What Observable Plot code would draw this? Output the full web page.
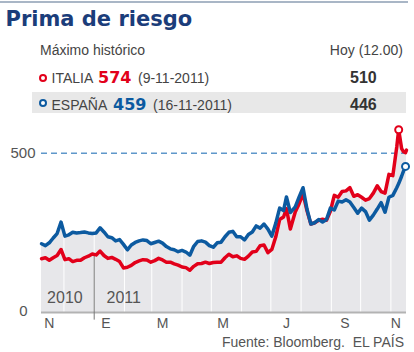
<!DOCTYPE html>
<html><head><meta charset="utf-8">
<script src="https://cdn.jsdelivr.net/npm/d3@7"></script>
<script src="https://cdn.jsdelivr.net/npm/@observablehq/plot@0.6"></script>
<style>
html,body{margin:0;padding:0;background:#fff;}
#wrap{position:relative;width:414px;height:352px;overflow:hidden;font-family:"Liberation Sans",Arial,sans-serif;color:#444;}
.a{position:absolute;white-space:pre;line-height:1;}
.t14{font-size:14px;}
.big{font-family:"DejaVu Sans",sans-serif;font-weight:bold;font-size:16px;}
.hoy{font-family:"Liberation Sans",Arial,sans-serif;font-weight:bold;font-size:16px;color:#333;}
.ring{position:absolute;box-sizing:border-box;width:8px;height:8px;border-radius:50%;border:2px solid;background:#fff;}
#chart{position:absolute;left:0;top:118px;}
</style></head>
<body><div id="wrap">
<div class="a" style="left:0;top:1px;width:408px;height:2px;background:#a9b6c6;"></div>
<div class="a" id="title" style="left:5.5px;top:9.2px;font-family:'DejaVu Sans',sans-serif;font-weight:bold;font-size:21px;color:#1b3d7a;"></div>
<div class="a t14" id="histLabel" style="left:40px;top:43.2px;"></div>
<div class="a t14" id="hoyLabel" style="right:11px;top:43.2px;"></div>
<div class="a" style="left:32px;top:92px;width:374px;height:21px;background:#e8e8e8;"></div>
<div class="ring" style="left:38.7px;top:74.3px;border-color:#e2001a;"></div>
<div class="ring" style="left:38.7px;top:99.3px;border-color:#0c5aa0;"></div>
<div class="a t14" id="itName" style="left:51.5px;top:71.2px;"></div>
<div class="a big" id="itMax" style="left:98px;top:69.5px;color:#e2001a;"></div>
<div class="a t14" id="itDate" style="left:138px;top:71.2px;"></div>
<div class="a hoy" id="itNow" style="left:350px;top:69.5px;"></div>
<div class="a t14" id="esName" style="left:51.5px;top:98.2px;"></div>
<div class="a big" id="esMax" style="left:113px;top:96.5px;color:#0c5aa0;"></div>
<div class="a t14" id="esDate" style="left:153px;top:98.2px;"></div>
<div class="a hoy" id="esNow" style="left:350px;top:96.5px;"></div>
<div id="chart"></div>
<div class="a t14" id="source" style="right:10px;top:335.2px;color:#555;"></div>
</div>
<script>
// ---- texts ----
const titleText = "Prima de riesgo";
const histText = "Máximo histórico";
const hoyText = "Hoy (12.00)";
const seriesNames = ["ITALIA", "ESPAÑA"];
const maxValues = [574, 459];
const maxDates = ["2011-11-09", "2011-11-16"];
const maxDateLabels = ["(9-11-2011)", "(16-11-2011)"];
const nowValues = [510, 446];
const sourceText = "Fuente: Bloomberg.  EL PAÍS";

// ---- series ----
const dates = [
"2010-11-08","2010-11-12","2010-11-16","2010-11-20","2010-11-24","2010-11-28",
"2010-12-02","2010-12-06","2010-12-10","2010-12-14","2010-12-18","2010-12-22","2010-12-26","2010-12-30",
"2011-01-03","2011-01-07","2011-01-11","2011-01-15","2011-01-19","2011-01-23","2011-01-27","2011-01-31",
"2011-02-04","2011-02-08","2011-02-12","2011-02-16","2011-02-20","2011-02-24","2011-02-28",
"2011-03-04","2011-03-08","2011-03-12","2011-03-16","2011-03-20","2011-03-24","2011-03-28",
"2011-04-01","2011-04-05","2011-04-09","2011-04-13","2011-04-17","2011-04-21","2011-04-25","2011-04-29",
"2011-05-03","2011-05-07","2011-05-11","2011-05-15","2011-05-19","2011-05-23","2011-05-27","2011-05-31",
"2011-06-04","2011-06-08","2011-06-12","2011-06-16","2011-06-20","2011-06-24","2011-06-28",
"2011-07-02","2011-07-06","2011-07-10","2011-07-14","2011-07-17","2011-07-21","2011-07-26","2011-07-30",
"2011-08-03","2011-08-07","2011-08-11","2011-08-15","2011-08-19","2011-08-23","2011-08-27","2011-08-31",
"2011-09-04","2011-09-08","2011-09-12","2011-09-16","2011-09-20","2011-09-24","2011-09-28",
"2011-10-02","2011-10-06","2011-10-10","2011-10-14","2011-10-18","2011-10-22","2011-10-26","2011-10-30",
"2011-11-03","2011-11-07","2011-11-09","2011-11-12","2011-11-14","2011-11-16","2011-11-17"];

const italia = [
169,172,164,172,179,198,
166,169,160,164,164,172,177,184,
181,193,179,170,173,167,160,140,
142,148,157,162,166,165,158,
163,170,165,158,158,153,149,
143,141,133,145,153,154,158,154,
157,158,158,172,183,175,178,170,
167,177,190,192,210,212,188,
198,237,292,300,326,262,316,342,
373,320,278,282,290,293,290,318,
368,362,380,382,392,365,370,
362,353,358,375,398,380,375,434,
430,520,574,515,505,502,510];

const espana = [
216,210,219,234,248,284,
240,244,252,250,251,253,250,248,
250,266,253,238,235,225,229,214,
197,212,220,225,228,226,216,
220,224,218,207,200,197,191,
195,190,180,208,223,225,221,210,
205,219,221,238,252,255,238,238,
228,245,253,272,265,278,262,
240,280,328,320,363,314,332,363,
392,325,278,282,292,284,292,328,
322,350,347,354,347,330,312,
328,317,290,306,325,345,315,362,
368,392,405,428,445,459,null];

// ---- axes ----
const tickDates = ["2010-11-16","2011-01-13","2011-03-12","2011-05-13","2011-07-17","2011-09-15","2011-11-06"];
const tickLabels = ["N","E","M","M","J","S","N"];
const monthStarts = ["2010-12-01","2011-01-01","2011-02-01","2011-03-01","2011-04-01","2011-05-01","2011-06-01","2011-07-01","2011-08-01","2011-09-01","2011-10-01","2011-11-01"];
const yearBreak = "2011-01-01";
const yearLabels = ["2010","2011"];
const yTicks = [0, 500];

const RED = "#e2001a", BLUE = "#0c5aa0";

// ---- header text ----
const set = (id, t) => document.getElementById(id).textContent = t;
set("title", titleText); set("histLabel", histText); set("hoyLabel", hoyText);
set("itName", seriesNames[0]); set("itMax", String(maxValues[0])); set("itDate", maxDateLabels[0]); set("itNow", String(nowValues[0]));
set("esName", seriesNames[1]); set("esMax", String(maxValues[1])); set("esDate", maxDateLabels[1]); set("esNow", String(nowValues[1]));
set("source", sourceText);

// ---- chart ----
const parse = d3.utcParse("%Y-%m-%d");
const rows = dates.map((d, i) => ({date: parse(d), italia: italia[i], espana: espana[i]}));
const areaRows = rows.map(r => ({date: r.date, top: Math.max(r.italia, r.espana == null ? 0 : r.espana)}));
const labelMap = new Map(tickDates.map((d, i) => [+parse(d), tickLabels[i]]));
const yb = parse(yearBreak);

const chart = Plot.plot({
  width: 414, height: 218,
  marginLeft: 41, marginRight: 8, marginTop: 3, marginBottom: 24,
  style: {background: "transparent", fontFamily: "'Liberation Sans', Arial, sans-serif", fontSize: "14px", overflow: "visible"},
  x: {type: "utc", domain: [parse(dates[0]), parse(dates[dates.length - 1])]},
  y: {domain: [0, 600], axis: null},
  marks: [
    Plot.areaY(areaRows, {x: "date", y: "top", fill: "#e7e7ea"}),
    Plot.ruleX(monthStarts.map(parse), {y1: 0, y2: 600, stroke: "#ffffff", strokeWidth: 1}),
    Plot.ruleY([yTicks[0]], {stroke: "#b3b3b3", strokeWidth: 2}),
    Plot.ruleY([yTicks[1]], {stroke: "#5f97ca", strokeWidth: 1.5, strokeDasharray: "6,4"}),
    Plot.ruleX([yb], {y1: -24, y2: 180, stroke: "#777", strokeWidth: 1}),
    Plot.text([yearLabels[0]], {x: yb, y: 47, text: d => d, textAnchor: "end", dx: -11.5, fontSize: 16, fill: "#555"}),
    Plot.text([yearLabels[1]], {x: yb, y: 47, text: d => d, textAnchor: "start", dx: 12.3, fontSize: 16, fill: "#555"}),
    Plot.lineY(rows, {x: "date", y: "italia", stroke: RED, strokeWidth: 3.5, strokeLinejoin: "round", strokeLinecap: "round"}),
    Plot.lineY(rows, {x: "date", y: "espana", stroke: BLUE, strokeWidth: 3.5, strokeLinejoin: "round", strokeLinecap: "round"}),
    Plot.dot([{date: parse(maxDates[0]), v: maxValues[0]}], {x: "date", y: "v", r: 3.5, fill: "#fff", stroke: RED, strokeWidth: 2}),
    Plot.dot([{date: parse(maxDates[1]), v: maxValues[1]}], {x: "date", y: "v", r: 3.5, fill: "#fff", stroke: BLUE, strokeWidth: 2}),
    Plot.axisX(tickDates.map(parse), {tickSize: 0, tickPadding: 6, fontSize: 14, color: "#555", tickFormat: d => labelMap.get(+d)}),
    Plot.text([yTicks[1]], {frameAnchor: "left", y: d => d, text: d => String(d), textAnchor: "end", dx: -6, fontSize: 15, fill: "#555"}),
    Plot.text([yTicks[0]], {frameAnchor: "left", y: d => d, text: d => String(d), textAnchor: "end", dx: -14, dy: -1, fontSize: 15, fill: "#555"})
  ]
});
document.getElementById("chart").appendChild(chart);
</script>
</body></html>
